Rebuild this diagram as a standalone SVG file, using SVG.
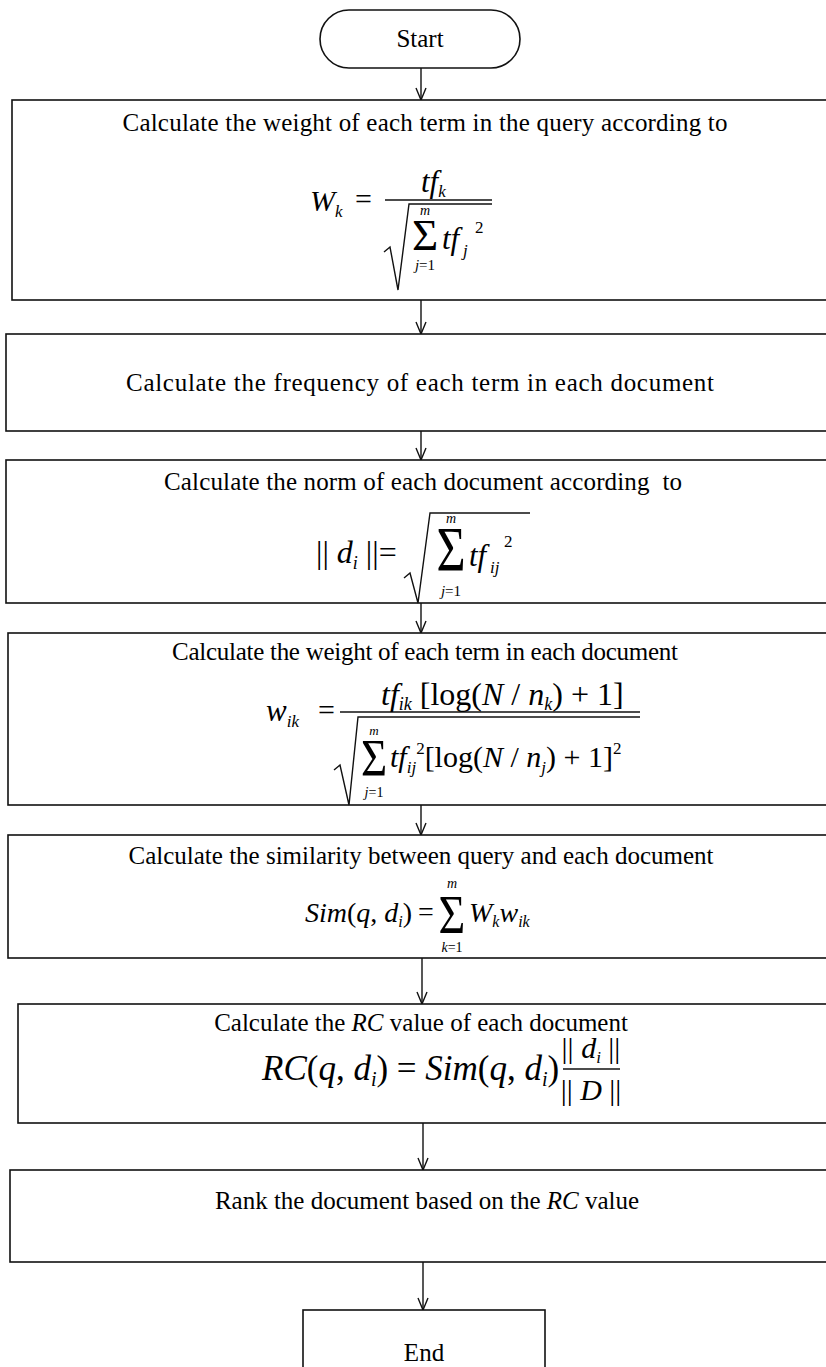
<svg xmlns="http://www.w3.org/2000/svg" width="826" height="1367" viewBox="0 0 826 1367">
<style>
.box{fill:#fff;stroke:#111;stroke-width:1.6}
.ln{stroke:#111;stroke-width:1.4;fill:none}
.t{font-family:"Liberation Serif","Times New Roman",serif;font-size:25px;fill:#000;text-anchor:middle}
.f{font-family:"Liberation Serif","Times New Roman",serif;fill:#000}
.i{font-style:italic}
.c{text-anchor:middle}
</style>
<defs>
<marker id="ah" markerUnits="userSpaceOnUse" viewBox="0 0 14 12" refX="13" refY="6" markerWidth="14" markerHeight="12" orient="auto">
<path d="M1,1 L13,6 L1,11" fill="none" stroke="#111" stroke-width="1.4"/>
</marker>
</defs>
<rect width="826" height="1367" fill="#fff"/>
<g id="connectors">
<line class="ln" x1="421" y1="68" x2="421" y2="100" marker-end="url(#ah)"/>
<line class="ln" x1="421" y1="300" x2="421" y2="334" marker-end="url(#ah)"/>
<line class="ln" x1="421" y1="431" x2="421" y2="460" marker-end="url(#ah)"/>
<line class="ln" x1="421" y1="603" x2="421" y2="633" marker-end="url(#ah)"/>
<line class="ln" x1="421" y1="805" x2="421" y2="835" marker-end="url(#ah)"/>
<line class="ln" x1="422" y1="958" x2="422" y2="1004" marker-end="url(#ah)"/>
<line class="ln" x1="423" y1="1123" x2="423" y2="1170" marker-end="url(#ah)"/>
<line class="ln" x1="423" y1="1262" x2="423" y2="1310" marker-end="url(#ah)"/>
</g>
<g id="start">
<rect class="box" x="320" y="10" width="200" height="58" rx="29"/>
<text class="t" x="420" y="47" font-size="26">Start</text>
</g>
<g id="step1">
<rect class="box" x="12" y="100" width="830" height="200"/>
<text class="t" x="425" y="131" font-size="26" textLength="605">Calculate the weight of each term in the query according to</text>
<text class="f i" x="310" y="211" font-size="30">W<tspan font-size="17" dy="6">k</tspan></text>
<text class="f" x="355" y="209" font-size="30">=</text>
<path class="ln" d="M385 200 H492"/>
<text class="f i" x="421" y="192" font-size="31">tf<tspan font-size="17" dy="5">k</tspan></text>
<path class="ln" d="M384 252 L390 247 L398 290 L409 204 H492"/>
<text class="f i c" x="425" y="215" font-size="14">m</text>
<text class="f c" x="425" y="250" font-size="45">Σ</text>
<text class="f i" x="442" y="249" font-size="31">tf</text>
<text class="f i" x="463" y="256" font-size="17">j</text>
<text class="f" x="475" y="233" font-size="17">2</text>
<text class="f c" x="425" y="270" font-size="15"><tspan class="i">j</tspan>=1</text>
</g>
<g id="step2">
<rect class="box" x="6" y="334" width="836" height="97"/>
<text class="t" x="420" y="391" font-size="26.5" textLength="588">Calculate the frequency of each term in each document</text>
</g>
<g id="step3">
<rect class="box" x="6" y="460" width="836" height="143"/>
<text class="t" x="423" y="490" font-size="25" textLength="518" xml:space="preserve">Calculate the norm of each document according  to</text>
<text class="f" x="316" y="563" font-size="32">|| <tspan class="i">d</tspan><tspan class="i" font-size="18" dy="6">i</tspan><tspan dy="-6"> ||=</tspan></text>
<path class="ln" d="M404 578 L410 573 L418 603 L430 513 H530"/>
<text class="f i c" x="451" y="523" font-size="14">m</text>
<text class="f c" transform="translate(451,571) scale(1,1.25)" font-size="50">Σ</text>
<text class="f i" x="469" y="566" font-size="31">tf</text>
<text class="f i" x="490" y="573" font-size="17">ij</text>
<text class="f" x="504" y="547" font-size="17">2</text>
<text class="f c" x="451" y="596" font-size="15"><tspan class="i">j</tspan>=1</text>
</g>
<g id="step4">
<rect class="box" x="8" y="633" width="834" height="172"/>
<text class="t" x="425" y="660" font-size="24.5" textLength="506">Calculate the weight of each term in each document</text>
<text class="f i" x="266" y="721" font-size="31">w<tspan font-size="17" dy="6">ik</tspan></text>
<text class="f" x="318" y="720" font-size="30">=</text>
<path class="ln" d="M340 712 H640"/>
<text class="f" x="381" y="705" font-size="32"><tspan class="i">tf</tspan><tspan class="i" font-size="18" dy="5">ik</tspan><tspan dy="-5"> [log(</tspan><tspan class="i">N</tspan> / <tspan class="i">n</tspan><tspan class="i" font-size="18" dy="5">k</tspan><tspan dy="-5">) + 1]</tspan></text>
<path class="ln" d="M334 770 L340 765 L349 805 L358 717 H640"/>
<text class="f i c" x="374" y="735" font-size="13">m</text>
<text class="f c" transform="translate(374,776) scale(1,1.15)" font-size="45">Σ</text>
<text class="f" x="390" y="767" font-size="30"><tspan class="i">tf</tspan><tspan class="i" font-size="17" dy="6">ij</tspan><tspan font-size="17" dy="-19">2</tspan><tspan dy="13">[log(</tspan><tspan class="i">N</tspan> / <tspan class="i">n</tspan><tspan class="i" font-size="17" dy="6">j</tspan><tspan dy="-6">) + 1]</tspan><tspan font-size="17" dy="-13">2</tspan></text>
<text class="f c" x="374" y="797" font-size="14"><tspan class="i">j</tspan>=1</text>
</g>
<g id="step5">
<rect class="box" x="8" y="835" width="834" height="123"/>
<text class="t" x="421" y="864" font-size="25" textLength="585">Calculate the similarity between query and each document</text>
<text class="f" x="305" y="922" font-size="28"><tspan class="i">Sim</tspan>(<tspan class="i">q</tspan>, <tspan class="i">d</tspan><tspan class="i" font-size="16" dy="5">i</tspan><tspan dy="-5">)</tspan></text>
<text class="f" x="418" y="921" font-size="28">=</text>
<text class="f i c" x="452" y="888" font-size="14">m</text>
<text class="f c" transform="translate(452,933) scale(1,1.2)" font-size="46">Σ</text>
<text class="f i c" x="452" y="952" font-size="14">k<tspan font-style="normal">=1</tspan></text>
<text class="f i" x="469" y="922" font-size="28">W<tspan font-size="16" dy="5">k</tspan><tspan font-size="28" dy="-5">w</tspan><tspan font-size="16" dy="5">ik</tspan></text>
</g>
<g id="step6">
<rect class="box" x="18" y="1004" width="824" height="119"/>
<text class="t" x="421" y="1031" font-size="22">Calculate the <tspan class="i">RC</tspan> value of each document</text>
<text class="f" x="262" y="1080" font-size="35"><tspan class="i">RC</tspan>(<tspan class="i">q</tspan>, <tspan class="i">d</tspan><tspan class="i" font-size="20" dy="6">i</tspan><tspan dy="-6">) = </tspan><tspan class="i">Sim</tspan>(<tspan class="i">q</tspan>, <tspan class="i">d</tspan><tspan class="i" font-size="20" dy="6">i</tspan><tspan dy="-6">)</tspan></text>
<text class="f c" x="591" y="1058" font-size="30">|| <tspan class="i">d</tspan><tspan class="i" font-size="17" dy="5">i</tspan><tspan dy="-5"> ||</tspan></text>
<path class="ln" d="M563 1069 H620"/>
<text class="f c" x="591" y="1100" font-size="30">|| <tspan class="i">D</tspan> ||</text>
</g>
<g id="step7">
<rect class="box" x="10" y="1170" width="832" height="92"/>
<text class="t" x="427" y="1209" font-size="26">Rank the document based on the <tspan class="i">RC</tspan> value</text>
</g>
<g id="end">
<rect class="box" x="303" y="1310" width="242" height="80"/>
<text class="t" x="424" y="1361" font-size="26">End</text>
</g>
</svg>
